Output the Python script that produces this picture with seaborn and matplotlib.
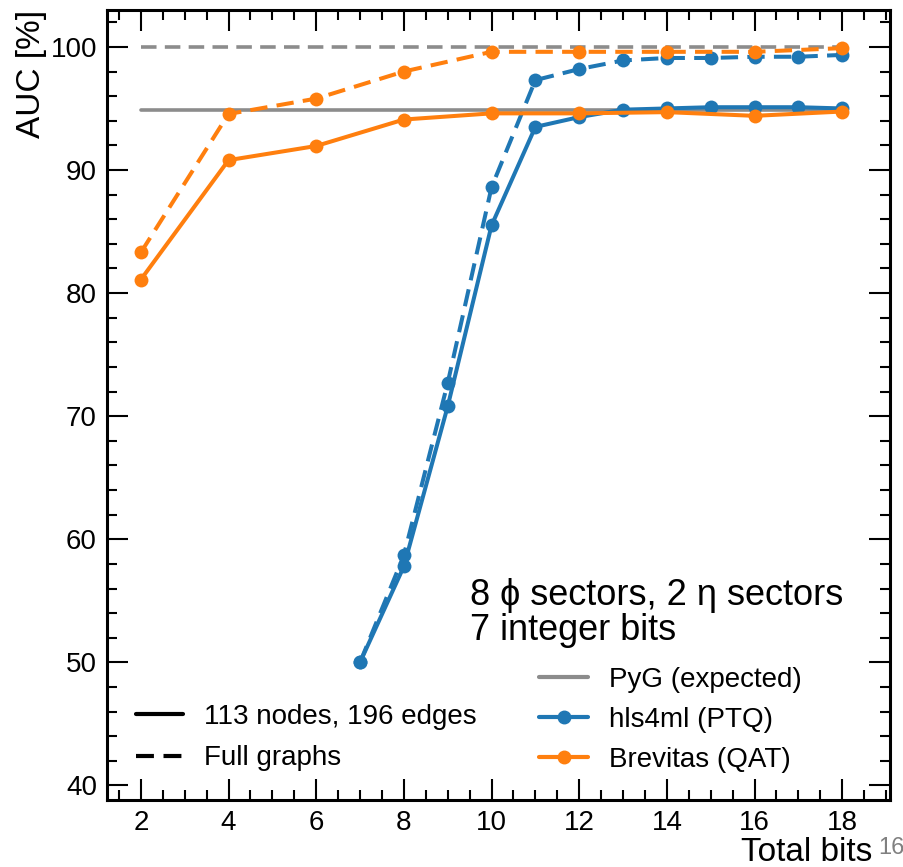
import numpy as np
import pandas as pd
import seaborn as sns
import matplotlib.pyplot as plt
from matplotlib.lines import Line2D
from matplotlib.ticker import MultipleLocator

# values
bits_brevitas = [2, 4, 6, 8, 10, 12, 14, 16, 18]
brevitas_sub = [81.1, 90.8, 91.95, 94.1, 94.6, 94.6, 94.7, 94.4, 94.75]
brevitas_full = [83.3, 94.55, 95.8, 98.0, 99.6, 99.6, 99.6, 99.6, 99.9]

bits_hls = [7, 8, 9, 10, 11, 12, 13, 14, 15, 16, 17, 18]
hls_sub = [50.0, 57.8, 70.8, 85.5, 93.5, 94.3, 94.9, 95.0, 95.1, 95.1, 95.1, 95.0]
hls_full = [50.0, 58.7, 72.7, 88.6, 97.3, 98.2, 98.9, 99.1, 99.1, 99.2, 99.2, 99.35]

pyg_bits = [2, 18]
pyg_sub = 94.9
pyg_full = 100.0

blue = "#1f77b4"
orange = "#ff7f0e"
grey = "#8c8c8c"
dash = (4.3, 2.3)

frames = []
for bits, vals, tool, graph in [
    (bits_hls, hls_sub, "hls4ml (PTQ)", "113 nodes, 196 edges"),
    (bits_hls, hls_full, "hls4ml (PTQ)", "Full graphs"),
    (bits_brevitas, brevitas_sub, "Brevitas (QAT)", "113 nodes, 196 edges"),
    (bits_brevitas, brevitas_full, "Brevitas (QAT)", "Full graphs"),
]:
    frames.append(pd.DataFrame({"bits": bits, "auc": vals, "tool": tool, "graph": graph}))
df = pd.concat(frames, ignore_index=True)

sns.set_style("ticks")
plt.rcParams["font.family"] = ["Liberation Sans", "DejaVu Sans"]
plt.rcParams.update({"text.color": "black", "axes.labelcolor": "black",
                     "xtick.color": "black", "ytick.color": "black",
                     "axes.edgecolor": "black"})

fig = plt.figure(figsize=(9.04, 8.67), dpi=100)
ax = fig.add_axes([0.118, 0.077, 0.867, 0.9115])

ax.plot(pyg_bits, [pyg_full] * 2, color=grey, lw=2.6, ls=(0, dash), zorder=1)
ax.plot(pyg_bits, [pyg_sub] * 2, color=grey, lw=2.6, zorder=1)

sns.lineplot(data=df, x="bits", y="auc", hue="tool", style="graph",
             palette={"hls4ml (PTQ)": blue, "Brevitas (QAT)": orange},
             dashes={"113 nodes, 196 edges": "", "Full graphs": dash},
             markers={"113 nodes, 196 edges": "o", "Full graphs": "o"},
             markersize=10, markeredgewidth=0, lw=2.9, legend=False, ax=ax,
             sort=False, estimator=None)

ax.set_xlim(1.22, 19.1)
ax.set_ylim(38.8, 103)
ax.xaxis.set_major_locator(MultipleLocator(2))
ax.xaxis.set_minor_locator(MultipleLocator(0.5))
ax.yaxis.set_major_locator(MultipleLocator(10))
ax.yaxis.set_minor_locator(MultipleLocator(2))
ax.tick_params(which="both", direction="in", top=True, right=True, labelsize=20, width=1.5)
ax.tick_params(which="major", length=15, pad=7)
ax.tick_params(which="minor", length=7.5)
for s in ax.spines.values():
    s.set_linewidth(2.2)

ax.set_xlabel("Total bits", fontsize=24, loc="right")
ax.xaxis.set_label_coords(0.977, -0.046, transform=ax.transAxes)
ax.xaxis.label.set_va("top")
ax.set_ylabel("AUC [%]", fontsize=24, loc="top")
ax.yaxis.set_label_coords(-0.076, 1.0)

ax.text(0.4636, 0.281, "8 ϕ sectors, 2 η sectors\n7 integer bits", transform=ax.transAxes,
        fontsize=26, va="top", ha="left", linespacing=1.0,
        family=["Liberation Sans", "DejaVu Sans"])

h1 = [Line2D([], [], color="black", lw=3),
      Line2D([], [], color="black", lw=3, ls=(0, dash))]
leg1 = ax.legend(h1, ["113 nodes, 196 edges", "Full graphs"], loc="lower left",
                 bbox_to_anchor=(0.005, 0.005), frameon=False, fontsize=20,
                 handlelength=1.7, labelspacing=0.55, handletextpad=0.75)
ax.add_artist(leg1)

h2 = [Line2D([], [], color=grey, lw=3),
      Line2D([], [], color=blue, lw=3, marker="o", markersize=9),
      Line2D([], [], color=orange, lw=3, marker="o", markersize=9)]
ax.legend(h2, ["PyG (expected)", "hls4ml (PTQ)", "Brevitas (QAT)"], loc="lower left",
          bbox_to_anchor=(0.52, 0.003), frameon=False, fontsize=20,
          handlelength=1.75, labelspacing=0.5, handletextpad=0.75)

fig.text(0.972, 0.015, "16", fontsize=17, color="#808080", ha="left")

fig.savefig("out.png", dpi=100)
